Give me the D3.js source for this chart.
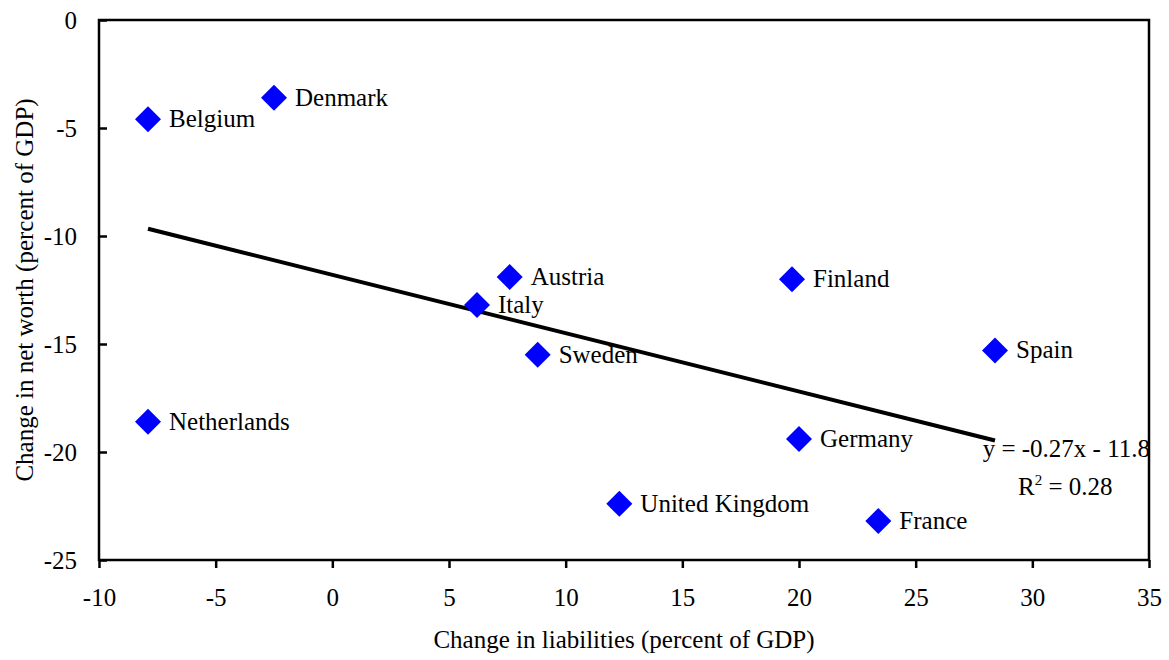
<!DOCTYPE html>
<html>
<head>
<meta charset="utf-8">
<script src="https://cdn.jsdelivr.net/npm/d3@7"></script>
<style>
  body { margin: 0; background: #fff; }
  svg text { font-family: "Liberation Serif", "Times New Roman", serif; fill: #000; }
</style>
</head>
<body>
<div id="chart"></div>
<script>
"use strict";

// countries and their values
var countries = ["Belgium", "Denmark", "Netherlands", "Italy", "Austria", "Sweden",
                 "United Kingdom", "Finland", "Germany", "France", "Spain"];
var liabilities = [-7.9, -2.5, -7.9, 6.2, 7.6, 8.8, 12.3, 19.7, 20.0, 23.4, 28.4];
var netWorth = [-4.6, -3.6, -18.6, -13.2, -11.9, -15.5, -22.4, -12.0, -19.4, -23.2, -15.3];

var xTicks = [-10, -5, 0, 5, 10, 15, 20, 25, 30, 35];
var yTicks = [0, -5, -10, -15, -20, -25];

// trend line as printed on the chart
var slope = -0.27, intercept = -11.8, rSquared = 0.28;

var width = 1169, height = 660;
var margin = {top: 20, right: 20, bottom: 100, left: 99};
var w = 1149 - margin.left;
var h = 560 - margin.top;
var fs = 25;

// plain hyphen for negatives, like the original
var fmt = function(d) { return String(d); };

var svg = d3.select("#chart").append("svg")
    .attr("width", width)
    .attr("height", height);

var g = svg.append("g")
    .attr("transform", "translate(" + margin.left + "," + margin.top + ")");

var x = d3.scaleLinear().domain([-10, 35]).range([0, w]);
var y = d3.scaleLinear().domain([-25, 0]).range([h, 0]);

// frame
g.append("rect")
    .attr("width", w)
    .attr("height", h)
    .attr("fill", "none")
    .attr("stroke", "#000")
    .attr("stroke-width", 2.5);

// x axis, ticks pointing down
var xAxis = g.append("g")
    .attr("transform", "translate(0," + h + ")")
    .call(d3.axisBottom(x).tickValues(xTicks).tickSize(8).tickPadding(20).tickFormat(fmt));
xAxis.select(".domain").remove();
xAxis.selectAll("line").attr("stroke", "#000").attr("stroke-width", 2.5);
xAxis.selectAll("text").attr("font-size", fs);

// y axis, ticks pointing inside
var yAxis = g.append("g")
    .call(d3.axisLeft(y).tickValues(yTicks).tickSize(-8).tickPadding(22).tickFormat(fmt));
yAxis.select(".domain").remove();
yAxis.selectAll("line").attr("stroke", "#000").attr("stroke-width", 2.5);
yAxis.selectAll("text").attr("font-size", fs);

// trend line
var xMin = d3.min(liabilities), xMax = d3.max(liabilities);
g.append("line")
    .attr("x1", x(xMin))
    .attr("y1", y(slope * xMin + intercept))
    .attr("x2", x(xMax))
    .attr("y2", y(slope * xMax + intercept))
    .attr("stroke", "#000")
    .attr("stroke-width", 4);

// points
var data = countries.map(function(c, i) {
  return {name: c, x: liabilities[i], y: netWorth[i]};
});

var pts = g.selectAll(".pt")
    .data(data)
  .enter().append("g")
    .attr("class", "pt")
    .attr("transform", function(d) { return "translate(" + x(d.x) + "," + y(d.y) + ")"; });

pts.append("path")
    .attr("d", "M0,-13L13,0L0,13L-13,0Z")
    .attr("fill", "#0000ff");

pts.append("text")
    .attr("x", 21)
    .attr("y", 8)
    .attr("font-size", fs)
    .text(function(d) { return d.name; });

// equation label
g.append("text")
    .attr("text-anchor", "end")
    .attr("x", w + 1)
    .attr("y", 457 - margin.top)
    .attr("font-size", fs)
    .text("y = " + slope + "x - " + Math.abs(intercept));

var r2 = g.append("text")
    .attr("x", 1018 - margin.left)
    .attr("y", 495 - margin.top)
    .attr("font-size", fs);
r2.append("tspan").text("R");
r2.append("tspan").attr("dy", -10).attr("font-size", 15).text("2");
r2.append("tspan").attr("dy", 10).text(" = " + rSquared);

// axis titles
svg.append("text")
    .attr("text-anchor", "middle")
    .attr("x", margin.left + w / 2)
    .attr("y", 648)
    .attr("font-size", fs)
    .text("Change in liabilities (percent of GDP)");

svg.append("text")
    .attr("text-anchor", "middle")
    .attr("transform", "translate(33," + (margin.top + h / 2) + ") rotate(-90)")
    .attr("font-size", fs)
    .text("Change in net worth (percent of GDP)");
</script>
</body>
</html>
